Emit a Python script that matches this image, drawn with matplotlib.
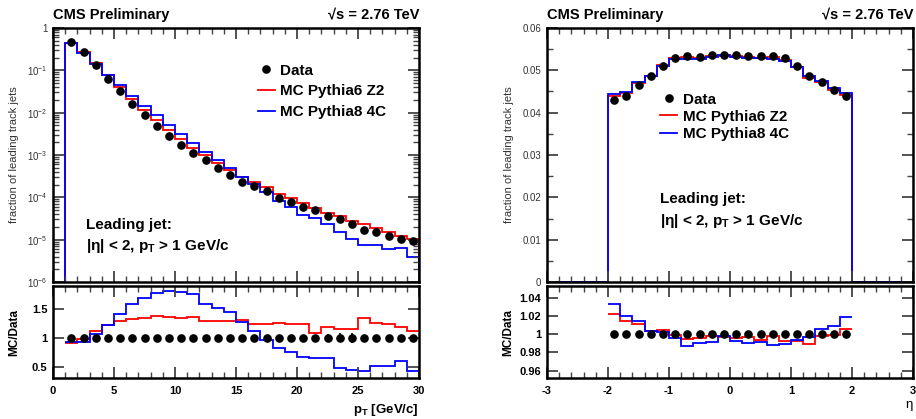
import numpy as np
import matplotlib
matplotlib.use("Agg")
import matplotlib.pyplot as plt
from matplotlib.lines import Line2D
from matplotlib.ticker import MultipleLocator, FixedLocator, LogLocator, FuncFormatter, NullFormatter

plt.rcParams['font.family'] = ['Liberation Sans', 'DejaVu Sans']
plt.rcParams['mathtext.fontset'] = 'custom'
plt.rcParams['mathtext.rm'] = 'Liberation Sans'
plt.rcParams['mathtext.bf'] = 'Liberation Sans:bold'
plt.rcParams['mathtext.it'] = 'Liberation Sans:italic'
plt.rcParams['axes.unicode_minus'] = False

# ---- leading jet pT (1 GeV bins from 1 to 30) ----
pt_edges = np.arange(1, 31)
pt_centers = np.arange(1.5, 30, 1.0)
pt_data = [0.475, 0.276, 0.134, 0.0635, 0.0319, 0.016, 0.00865, 0.00484, 0.00281, 0.00175,
           0.00109, 7.5e-4, 5.0e-4, 3.43e-4, 2.34e-4, 1.82e-4, 1.39e-4, 9.8e-5, 7.6e-5, 5.9e-5,
           5.0e-5, 3.69e-5, 3.08e-5, 2.34e-5, 1.72e-5, 1.49e-5, 1.2e-5, 1.04e-5, 9.1e-6]
pt_py6 = [0.432, 0.268, 0.149, 0.0775, 0.0412, 0.0211, 0.01168, 0.00663, 0.00382, 0.00236,
          0.00148, 9.75e-4, 6.45e-4, 4.42e-4, 3.07e-4, 2.26e-4, 1.72e-4, 1.23e-4, 9.4e-5, 7.3e-5,
          5.45e-5, 4.35e-5, 3.54e-5, 2.71e-5, 2.30e-5, 1.88e-5, 1.49e-5, 1.24e-5, 1.01e-5]
pt_py8 = [0.437, 0.254, 0.142, 0.0775, 0.0450, 0.0254, 0.01462, 0.00862, 0.00511, 0.00313,
          0.00192, 1.19e-3, 7.55e-4, 4.97e-4, 3.0e-4, 2.04e-4, 1.33e-4, 8.1e-5, 5.8e-5, 3.9e-5,
          3.2e-5, 2.4e-5, 1.48e-5, 1.03e-5, 7.4e-6, 7.6e-6, 6.1e-6, 6.2e-6, 3.9e-6]
pt_ratio_py6 = [0.91, 0.97, 1.11, 1.22, 1.29, 1.32, 1.35, 1.37, 1.36, 1.35, 1.36, 1.30, 1.29, 1.29, 1.31,
                1.24, 1.24, 1.26, 1.24, 1.24, 1.09, 1.18, 1.15, 1.16, 1.34, 1.26, 1.24, 1.19, 1.11]
pt_ratio_py8 = [0.92, 0.92, 1.06, 1.22, 1.41, 1.59, 1.69, 1.78, 1.82, 1.79, 1.76, 1.59, 1.51, 1.45, 1.28,
                1.12, 0.96, 0.83, 0.76, 0.66, 0.64, 0.65, 0.48, 0.44, 0.43, 0.51, 0.51, 0.60, 0.43]
pt_ratio_err = [0.0] * 21 + [0.07, 0.08, 0.09, 0.0, 0.0, 0.0, 0.0, 0.0]

# ---- leading jet eta (0.2 bins, filled between -2 and 2) ----
eta_edges = np.round(np.arange(-3.0, 3.01, 0.2), 1)
eta_centers = np.round(np.arange(-1.9, 2.0, 0.2), 1)
eta_data = [0.0429, 0.04401, 0.04653, 0.04857, 0.05094, 0.05292, 0.05346, 0.05322, 0.05362, 0.05362,
            0.05362, 0.0533, 0.0533, 0.0533, 0.05282, 0.0511, 0.04874, 0.04732, 0.04543, 0.04385]
eta_py6 = [0.04384, 0.04463, 0.04707, 0.04873, 0.05118, 0.05288, 0.05316, 0.05300, 0.05350, 0.05344,
           0.05340, 0.05314, 0.05296, 0.0532, 0.05241, 0.05074, 0.04823, 0.04725, 0.0454, 0.0441]
eta_py8 = [0.04433, 0.04489, 0.0472, 0.04875, 0.05109, 0.05269, 0.05279, 0.05272, 0.05314, 0.05351,
           0.05324, 0.0528, 0.05285, 0.05266, 0.05227, 0.05078, 0.04858, 0.04758, 0.04585, 0.0447]
eta_ratio_py6 = [1.0219, 1.0141, 1.0115, 1.0033, 1.0048, 0.9993, 0.9944, 0.9959, 0.9978, 0.9967,
                 0.9959, 0.997, 0.9937, 0.9981, 0.9922, 0.993, 0.9896, 0.9985, 0.9993, 1.0056]
eta_ratio_py8 = [1.0333, 1.020, 1.0144, 1.0037, 1.003, 0.9956, 0.9874, 0.9907, 0.991, 0.998,
                 0.993, 0.9907, 0.9915, 0.988, 0.9896, 0.9937, 0.9967, 1.0056, 1.0093, 1.0193]
eta_empty = [0.0] * 5  # empty bins on each side (|eta| > 2)

RED = '#ff0000'
BLUE = '#0000ff'
MS = 5.2
W, H = 916, 419

fig = plt.figure(figsize=(W / 100, H / 100), dpi=100)


def box(x0, y0, x1, y1):
    return [x0 / W, 1 - y1 / H, (x1 - x0) / W, (y1 - y0) / H]


def style(ax, bold=False, size=7):
    for s in ax.spines.values():
        s.set_linewidth(1.8)
    ax.tick_params(which='both', direction='in', top=True, right=True, color='#444444')
    ax.tick_params(which='major', length=8, width=1.3, labelsize=size, pad=4)
    ax.tick_params(which='minor', length=4, width=1.0)
    for lab in ax.get_xticklabels() + ax.get_yticklabels():
        lab.set_fontweight('bold' if bold else 'normal')


def header(ax):
    ax.text(0.0, 1.025, 'CMS Preliminary', transform=ax.transAxes, fontsize=10.5,
            fontweight='bold', ha='left', va='bottom')
    ax.text(1.0, 1.025, '√s = 2.76 TeV', transform=ax.transAxes, fontsize=10.5,
            fontweight='bold', ha='right', va='bottom')


def logfmt(v, pos):
    e = int(round(np.log10(v)))
    return '1' if e == 0 else r'$10^{%d}$' % e


# ================= left: pT =================
ax1 = fig.add_axes(box(53, 28, 419, 282))
ax1.stairs(pt_py6, pt_edges, baseline=1e-8, color=RED, lw=1.3)
ax1.stairs(pt_py8, pt_edges, baseline=1e-8, color=BLUE, lw=1.3)
ax1.plot(pt_centers, pt_data, 'o', color='black', ms=MS)
ax1.set_yscale('log')
ax1.set_xlim(0, 30)
ax1.set_ylim(1e-6, 1)
ax1.xaxis.set_major_locator(MultipleLocator(5))
ax1.xaxis.set_minor_locator(MultipleLocator(1))
ax1.xaxis.set_major_formatter(NullFormatter())
ax1.yaxis.set_major_locator(LogLocator(base=10, numticks=10))
ax1.yaxis.set_minor_locator(LogLocator(base=10, subs=np.arange(2, 10), numticks=20))
ax1.yaxis.set_major_formatter(FuncFormatter(logfmt))
ax1.yaxis.set_minor_formatter(NullFormatter())
style(ax1)
for lab in ax1.get_yticklabels():
    lab.set_color('#333333')
ax1.set_ylabel('fraction of leading track jets', fontsize=8, color='#333333', labelpad=6)
header(ax1)
handles = [Line2D([], [], ls='', marker='o', color='black', ms=MS),
           Line2D([], [], color=RED, lw=1.3),
           Line2D([], [], color=BLUE, lw=1.3)]
labels = ['Data', 'MC Pythia6 Z2', 'MC Pythia8 4C']
ax1.legend(handles, labels, loc='upper left', bbox_to_anchor=(0.56, 0.86), frameon=False,
           prop={'weight': 'bold', 'size': 11}, handlelength=1.1, handletextpad=0.35,
           labelspacing=0.45, borderpad=0, borderaxespad=0)
ax1.text(0.09, 0.225, 'Leading jet:', transform=ax1.transAxes, fontsize=11, fontweight='bold',
         ha='left', va='center')
ax1.text(0.09, 0.14, r'|η| < 2, p$_{\mathbf{T}}$ > 1 GeV/c', transform=ax1.transAxes, fontsize=11,
         fontweight='bold', ha='left', va='center')

ax2 = fig.add_axes(box(53, 286, 419, 378))
ax2.stairs(pt_ratio_py6, pt_edges, baseline=None, color=RED, lw=1.3)
ax2.stairs(pt_ratio_py8, pt_edges, baseline=None, color=BLUE, lw=1.3)
ax2.errorbar(pt_centers, np.ones(len(pt_centers)), yerr=pt_ratio_err, fmt='o', color='black',
             ms=MS, elinewidth=1.2, capsize=0)
ax2.set_xlim(0, 30)
ax2.set_ylim(0.3, 1.9)
ax2.xaxis.set_major_locator(MultipleLocator(5))
ax2.xaxis.set_minor_locator(MultipleLocator(1))
ax2.yaxis.set_major_locator(FixedLocator([0.5, 1.0, 1.5]))
ax2.yaxis.set_major_formatter(FuncFormatter(lambda v, p: '%g' % v))
style(ax2, bold=True, size=8)
ax2.tick_params(axis='x', pad=6)
ax2.set_ylabel('MC/Data', fontsize=8.5, fontweight='bold', labelpad=8)
ax2.set_xlabel(r'p$_{\mathbf{T}}$ [GeV/c]', fontsize=9.5, fontweight='bold', loc='right', labelpad=4)

# ================= right: eta =================
ax3 = fig.add_axes(box(547, 28, 913, 282))
ax3.stairs(np.concatenate([eta_empty, eta_py6, eta_empty]), eta_edges, baseline=None, color=RED, lw=1.3)
ax3.stairs(np.concatenate([eta_empty, eta_py8, eta_empty]), eta_edges, baseline=None, color=BLUE, lw=1.3)
ax3.plot(eta_centers, eta_data, 'o', color='black', ms=MS)
ax3.set_xlim(-3, 3)
ax3.set_ylim(0, 0.06)
ax3.xaxis.set_major_locator(MultipleLocator(1))
ax3.xaxis.set_minor_locator(MultipleLocator(0.2))
ax3.xaxis.set_major_formatter(NullFormatter())
ax3.yaxis.set_major_locator(MultipleLocator(0.01))
ax3.yaxis.set_minor_locator(MultipleLocator(0.005))
ax3.yaxis.set_major_formatter(FuncFormatter(lambda v, p: '%g' % round(v, 3)))
style(ax3)
for lab in ax3.get_yticklabels():
    lab.set_color('#333333')
ax3.set_ylabel('fraction of leading track jets', fontsize=8, color='#333333', labelpad=6)
header(ax3)
ax3.legend(handles, labels, loc='upper left', bbox_to_anchor=(0.31, 0.745), frameon=False,
           prop={'weight': 'bold', 'size': 11}, handlelength=1.1, handletextpad=0.35,
           labelspacing=0.2, borderpad=0, borderaxespad=0)
ax3.text(0.31, 0.325, 'Leading jet:', transform=ax3.transAxes, fontsize=11, fontweight='bold',
         ha='left', va='center')
ax3.text(0.31, 0.24, r'|η| < 2, p$_{\mathbf{T}}$ > 1 GeV/c', transform=ax3.transAxes, fontsize=11,
         fontweight='bold', ha='left', va='center')

ax4 = fig.add_axes(box(547, 286, 913, 378))
ax4.stairs(eta_ratio_py6, eta_edges[5:-5], baseline=None, color=RED, lw=1.3)
ax4.stairs(eta_ratio_py8, eta_edges[5:-5], baseline=None, color=BLUE, lw=1.3)
ax4.plot(eta_centers, np.ones(len(eta_centers)), 'o', color='black', ms=MS)
ax4.set_xlim(-3, 3)
ax4.set_ylim(0.952, 1.053)
ax4.xaxis.set_major_locator(MultipleLocator(1))
ax4.xaxis.set_minor_locator(MultipleLocator(0.2))
ax4.yaxis.set_major_locator(FixedLocator([0.96, 0.98, 1.0, 1.02, 1.04]))
ax4.yaxis.set_major_formatter(FuncFormatter(lambda v, p: '%g' % round(v, 2)))
style(ax4, bold=True, size=8)
ax4.tick_params(axis='x', pad=6)
ax4.set_ylabel('MC/Data', fontsize=8.5, fontweight='bold', labelpad=4)
ax4.set_xlabel('η', fontsize=9.5, loc='right', labelpad=2)

fig.savefig('out.png', dpi=100)
